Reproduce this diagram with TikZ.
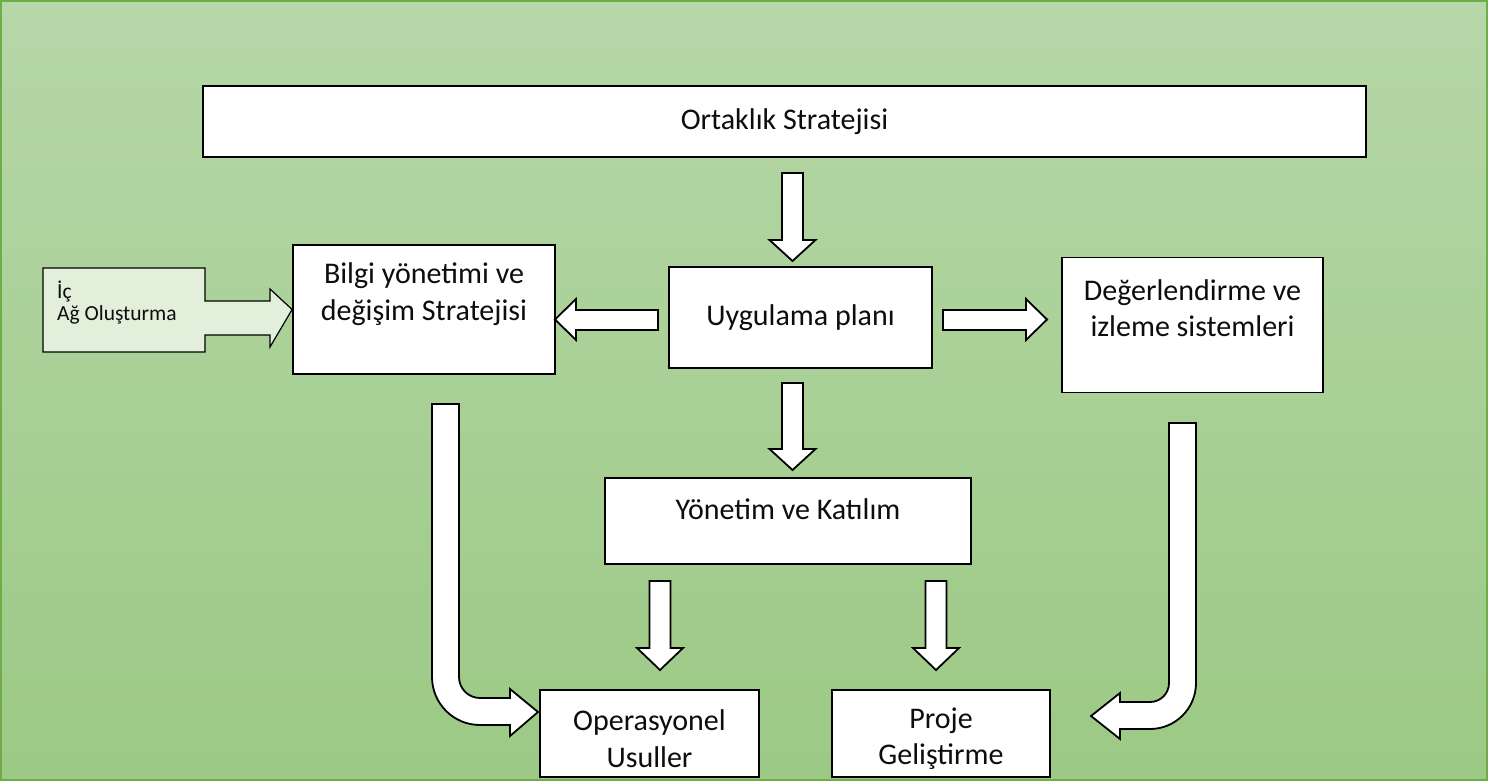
\documentclass[tikz,border=0pt]{standalone}
\usepackage{fontspec}
\setmainfont{Carlito}
\definecolor{bgtop}{HTML}{B6D7A8}
\definecolor{bgbot}{HTML}{9CC985}
\definecolor{frame}{HTML}{70AD47}
\definecolor{paleg}{HTML}{E2EFDA}
\definecolor{ink}{HTML}{0D0D0D}
\begin{document}
\begin{tikzpicture}[x=1pt,y=-1pt,
  box/.style={draw=black,fill=white,line width=1.8pt,rectangle,inner sep=0pt},
  lbl/.style={text=ink,font=\fontsize{30}{36.5}\selectfont,align=center,inner sep=0pt},
  small/.style={text=ink,font=\fontsize{21.5}{22}\selectfont,align=left,inner sep=0pt,anchor=base west},
  blk/.style={draw=black,fill=white,line width=1.8pt,line join=miter}]
\useasboundingbox (0,0) rectangle (1504,784);
% green panel
\shade[top color=bgtop,bottom color=bgbot] (1,1) rectangle (1487,780);
\draw[frame,line width=1.6pt] (1,1) rectangle (1487,780);

% boxes
\node[box,minimum width=1163pt,minimum height=71pt] (ort) at (784.5,121.5) {};
\node[box,minimum width=263pt,minimum height=101pt] (uyg) at (800.5,317.5) {};
\node[box,minimum width=262pt,minimum height=129pt] (bil) at (424,309.5) {};
\node[box,minimum width=261pt,minimum height=135pt] (deg) at (1192.5,325) {};
\node[box,minimum width=366pt,minimum height=86pt] (yon) at (788,521) {};
\node[box,minimum width=219pt,minimum height=87pt] (ope) at (649.5,733.5) {};
\node[box,minimum width=218pt,minimum height=87pt] (pro) at (941,733.5) {};

% labels
\node[lbl] (ort-t) at (784.5,122) {Ortaklık Stratejisi};
\node[lbl] (uyg-t) at (800.5,318) {Uygulama planı};
\node[lbl] (bil-t) at (424,294) {Bilgi yönetimi ve\\değişim Stratejisi};
\node[lbl] (deg-t) at (1192.5,308) {Değerlendirme ve\\izleme sistemleri};
\node[lbl] (yon-t) at (788,509) {Yönetim ve Katılım};
\node[lbl] (ope-t) at (649.5,738.5) {Operasyonel\\Usuller};
\node[lbl] (pro-t) at (941,738.5) {Proje\\Geliştirme};

% internal networking box with its arrow
\draw[draw=black,fill=paleg,line width=1.2pt,line join=miter]
  (43,268) -- (205,268) -- (205,301) -- (270,301) -- (270,289) -- (bil.west)
  -- (270,347) -- (270,335) -- (205,335) -- (205,352) -- (43,352) -- cycle;
\node[small] (ic1) at (57,298) {İç};
\node[small] (ic2) at (57,320) {Ağ Oluşturma};

% straight block arrows: down
\draw[blk] (782,173) -- (782,240) -- (769.5,240) -- (792.5,261) -- (815.5,240) -- (803,240) -- (803,173) -- cycle;
\draw[blk] (782,383) -- (782,449) -- (769.5,449) -- (792.5,470) -- (815.5,449) -- (803,449) -- (803,383) -- cycle;
\draw[blk] (649.5,581) -- (649.5,648) -- (637,648) -- (660,670) -- (683,648) -- (670.5,648) -- (670.5,581) -- cycle;
\draw[blk] (925.5,581) -- (925.5,648) -- (913,648) -- (936,670) -- (959,648) -- (946.5,648) -- (946.5,581) -- cycle;
% horizontal block arrows
\draw[blk] (658,310) -- (576,310) -- (576,299) -- (555,319.5) -- (576,340) -- (576,330) -- (658,330) -- cycle;
\draw[blk] (943,310) -- (1026,310) -- (1026,299) -- (1047,319.5) -- (1026,340) -- (1026,330) -- (943,330) -- cycle;

% bent block arrows
\draw[blk] (432,404) -- (432,677) arc[start angle=180,end angle=270,radius=48pt]
  -- (510,725) -- (510,736) -- (538,712) -- (510,689) -- (510,698) -- (480,698)
  arc[start angle=270,end angle=180,radius=21pt] -- (459,404) -- cycle;
\draw[blk] (1196,423) -- (1196,683) arc[start angle=0,end angle=-90,radius=46pt]
  -- (1120,729) -- (1120,739) -- (1091,716) -- (1120,693) -- (1120,702) -- (1150,702)
  arc[start angle=-90,end angle=0,radius=19pt] -- (1169,423) -- cycle;
\end{tikzpicture}
\end{document}
